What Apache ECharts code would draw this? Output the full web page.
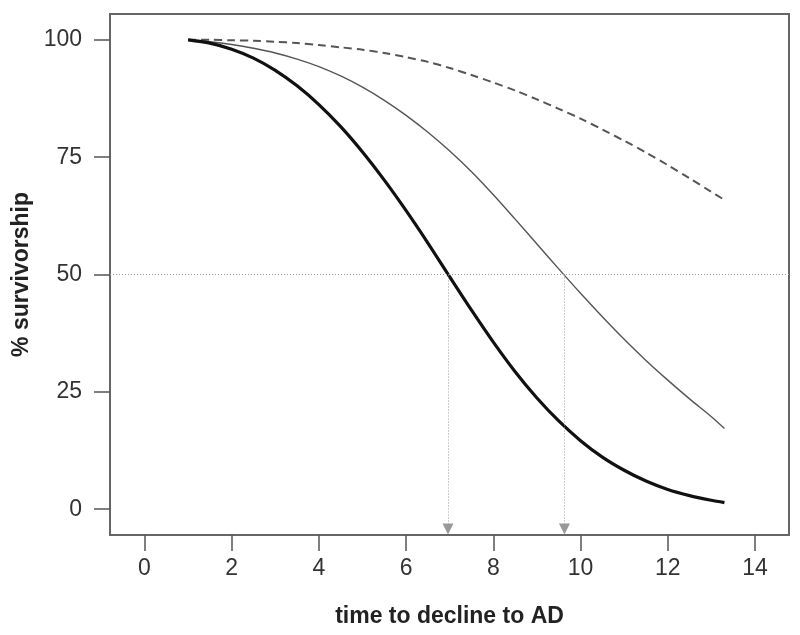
<!DOCTYPE html>
<html>
<head>
<meta charset="utf-8">
<script src="https://cdn.jsdelivr.net/npm/echarts@6/dist/echarts.min.js"></script>
<style>
  html, body { margin: 0; padding: 0; background: #fff; }
  #chart { width: 800px; height: 635px; }
</style>
</head>
<body>
<div id="chart"></div>
<script>
// time to decline (years)
var times = [1, 1.5, 2, 2.5, 3, 3.5, 4, 4.5, 5, 5.5, 6, 6.5, 7, 7.5, 8, 8.5, 9, 9.5, 10, 10.5, 11, 11.5, 12, 12.5, 13, 13.3];
// % survivorship, three curves
var thickCurve = [100, 99.3, 98.0, 96.1, 93.5, 90.2, 86.2, 81.5, 76.1, 70.1, 63.6, 56.7, 49.5, 42.4, 35.6, 29.3, 23.7, 18.8, 14.6, 11.1, 8.3, 6.0, 4.2, 2.9, 1.9, 1.4];
var thinCurve = [100, 99.6, 99.0, 98.2, 97.2, 95.9, 94.3, 92.3, 89.9, 87.1, 83.9, 80.3, 76.3, 71.9, 67.0, 61.8, 56.5, 51.2, 46.0, 41.0, 36.2, 31.7, 27.5, 23.5, 19.7, 17.2];
var dashedCurve = [100, 100, 99.9, 99.8, 99.6, 99.3, 98.9, 98.4, 97.9, 97.2, 96.3, 95.3, 94.0, 92.5, 90.9, 89.2, 87.3, 85.3, 83.2, 80.9, 78.5, 76.0, 73.3, 70.5, 67.6, 65.9];
// median times where curves cross 50%
var medianLevel = 50;
var medianTimes = [6.96, 9.63];
var xTicks = [0, 2, 4, 6, 8, 10, 12, 14];
var yTicks = [0, 25, 50, 75, 100];

var xMin = -0.79, xMax = 14.78;
var yMin = -5.5, yMax = 105.5;

function pairs(ys) {
  return times.map(function (t, i) { return [t, ys[i]]; });
}

var font = '"Liberation Sans", Arial, sans-serif';

var arrowLines = medianTimes.map(function (t) {
  // arrow tip sits on the bottom frame
  return [{ coord: [t, medianLevel] }, { coord: [t, yMin + 1.3] }];
});

var myChart = echarts.init(document.getElementById('chart'));
myChart.setOption({
  animation: false,
  grid: {
    left: 110, right: 11, top: 14, bottom: 100,
    show: true, borderColor: '#666', borderWidth: 2,
    outerBoundsMode: 'none'
  },
  xAxis: {
    type: 'value', min: xMin, max: xMax,
    name: 'time to decline to AD', nameLocation: 'middle', nameGap: 70,
    nameTextStyle: { fontFamily: font, fontSize: 23, fontWeight: 'bold', color: '#222' },
    axisLine: { show: false, onZero: false },
    axisTick: { show: true, length: 16, customValues: xTicks, lineStyle: { color: '#555', width: 1.5 } },
    axisLabel: { customValues: xTicks, margin: 22, fontFamily: font, fontSize: 23, color: '#333' },
    splitLine: { show: false }
  },
  yAxis: {
    type: 'value', min: yMin, max: yMax,
    name: '% survivorship', nameLocation: 'middle', nameGap: 76,
    nameTextStyle: { fontFamily: font, fontSize: 23, fontWeight: 'bold', color: '#222' },
    axisLine: { show: false, onZero: false },
    axisTick: { show: true, length: 16, customValues: yTicks, lineStyle: { color: '#555', width: 1.5 } },
    axisLabel: { customValues: yTicks, margin: 28, fontFamily: font, fontSize: 23, color: '#333' },
    splitLine: { show: false }
  },
  series: [
    {
      type: 'line', data: pairs(dashedCurve), showSymbol: false, smooth: 0.3,
      lineStyle: { color: '#555', width: 2, type: [8, 5] }
    },
    {
      type: 'line', data: pairs(thinCurve), showSymbol: false, smooth: 0.3,
      lineStyle: { color: '#555', width: 1.4 }
    },
    {
      type: 'line', data: pairs(thickCurve), showSymbol: false, smooth: 0.3,
      lineStyle: { color: '#111', width: 3.2 },
      markLine: {
        silent: true, symbol: 'none', label: { show: false },
        lineStyle: { color: '#999', width: 1, type: [1, 2] },
        data: [{ yAxis: medianLevel }]
      }
    },
    {
      type: 'line', data: [],
      markLine: {
        silent: true, symbol: ['none', 'triangle'], symbolSize: [11, 11],
        label: { show: false },
        lineStyle: { color: '#999', width: 1, type: [1, 2] },
        itemStyle: { color: '#999' },
        data: arrowLines
      }
    }
  ]
});
</script>
</body>
</html>
